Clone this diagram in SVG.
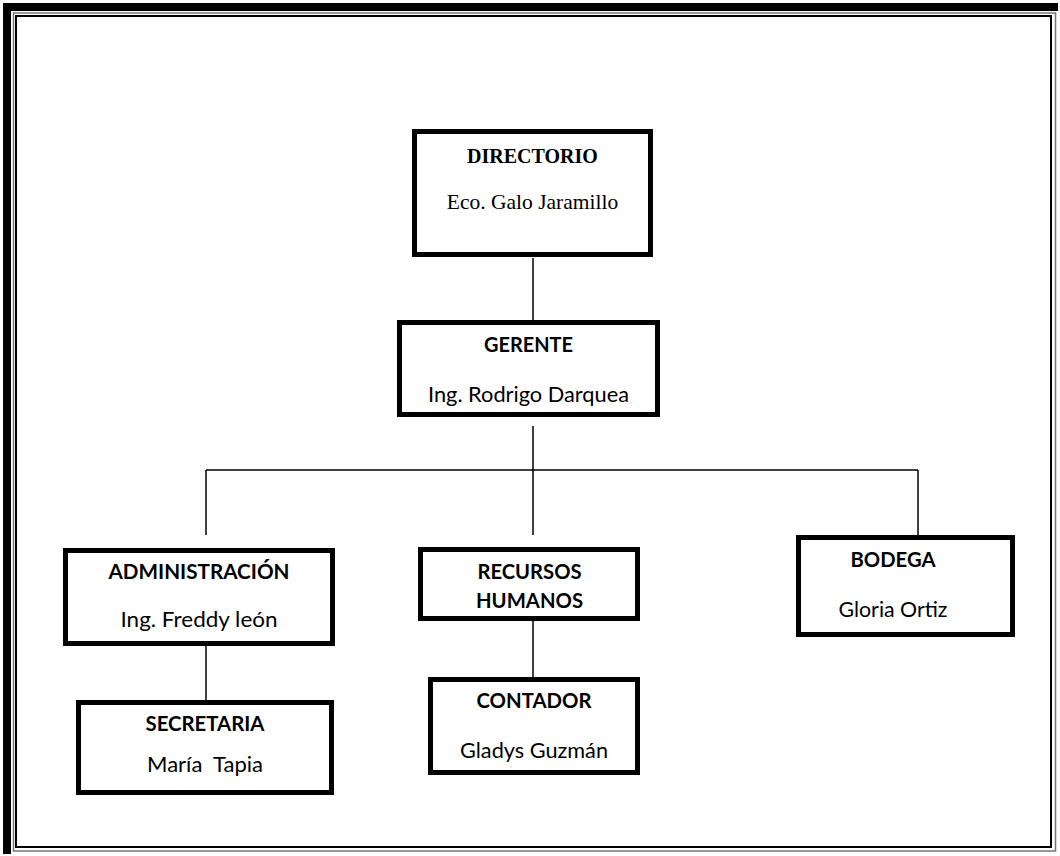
<svg xmlns="http://www.w3.org/2000/svg" width="1060" height="856" viewBox="0 0 1060 856">
<style>
.box{fill:#fff;stroke:#000;stroke-width:5}
.ln{stroke:#000;stroke-width:1.5;fill:none}
.ts{font-family:"Liberation Serif","Times New Roman",serif;font-size:21.5px;fill:#000;text-anchor:middle}
.tb{font-weight:bold;font-size:20px}
.cs{font-family:Lato,"Open Sans",sans-serif;font-size:21px;fill:#000;text-anchor:middle}
.cb{font-weight:bold}
</style>
<rect width="1060" height="856" fill="#fff"/>
<g id="frame">
<rect x="3" y="3" width="1055" height="8" fill="#000"/>
<rect x="3" y="3" width="8" height="851" fill="#000"/>
<rect x="13.5" y="13" width="1042" height="838" fill="none" stroke="#777" stroke-width="1.5"/>
<rect x="16" y="16" width="1035" height="831" fill="none" stroke="#000" stroke-width="2"/>
</g>
<g id="connectors">
<line class="ln" x1="533" y1="258" x2="533" y2="333"/>
<line class="ln" x1="533" y1="426" x2="533" y2="470"/>
<line class="ln" x1="206" y1="470" x2="918" y2="470"/>
<line class="ln" x1="206" y1="470" x2="206" y2="535"/>
<line class="ln" x1="533" y1="470" x2="533" y2="535"/>
<line class="ln" x1="918" y1="470" x2="918" y2="536"/>
<line class="ln" x1="206" y1="646" x2="206" y2="701"/>
<line class="ln" x1="533" y1="621" x2="533" y2="678"/>
</g>
<g id="directorio">
<rect class="box" x="414.5" y="131.5" width="236" height="123"/>
<text class="ts tb" x="532.5" y="163">DIRECTORIO</text>
<text class="ts" x="532.5" y="209">Eco. Galo Jaramillo</text>
</g>
<g id="gerente">
<rect class="box" x="399.5" y="322.5" width="258" height="92"/>
<text class="cs cb" x="528.5" y="352" textLength="89" lengthAdjust="spacingAndGlyphs">GERENTE</text>
<text class="cs" x="528.5" y="402" textLength="201" lengthAdjust="spacingAndGlyphs">Ing. Rodrigo Darquea</text>
</g>
<g id="administracion">
<rect class="box" x="65.5" y="550.5" width="267" height="93"/>
<text class="cs cb" x="199" y="579" textLength="181" lengthAdjust="spacingAndGlyphs">ADMINISTRACIÓN</text>
<text class="cs" x="199" y="627" textLength="157" lengthAdjust="spacingAndGlyphs">Ing. Freddy león</text>
</g>
<g id="secretaria">
<rect class="box" x="78.5" y="702.5" width="253" height="90"/>
<text class="cs cb" x="205" y="731" textLength="119" lengthAdjust="spacingAndGlyphs">SECRETARIA</text>
<text class="cs" x="205" y="772" textLength="116" lengthAdjust="spacingAndGlyphs" xml:space="preserve">María  Tapia</text>
</g>
<g id="recursos-humanos">
<rect class="box" x="420.5" y="549.5" width="217" height="69"/>
<text class="cs cb" x="529.5" y="579" textLength="104" lengthAdjust="spacingAndGlyphs">RECURSOS</text>
<text class="cs cb" x="529.5" y="608" textLength="107" lengthAdjust="spacingAndGlyphs">HUMANOS</text>
</g>
<g id="contador">
<rect class="box" x="430.5" y="679.5" width="207" height="93"/>
<text class="cs cb" x="534" y="708" textLength="115" lengthAdjust="spacingAndGlyphs">CONTADOR</text>
<text class="cs" x="534" y="758" textLength="148" lengthAdjust="spacingAndGlyphs">Gladys Guzmán</text>
</g>
<g id="bodega">
<rect class="box" x="798.5" y="537.5" width="214" height="97"/>
<text class="cs cb" x="893" y="567" textLength="85" lengthAdjust="spacingAndGlyphs">BODEGA</text>
<text class="cs" x="893" y="617" textLength="109" lengthAdjust="spacingAndGlyphs">Gloria Ortiz</text>
</g>
</svg>
